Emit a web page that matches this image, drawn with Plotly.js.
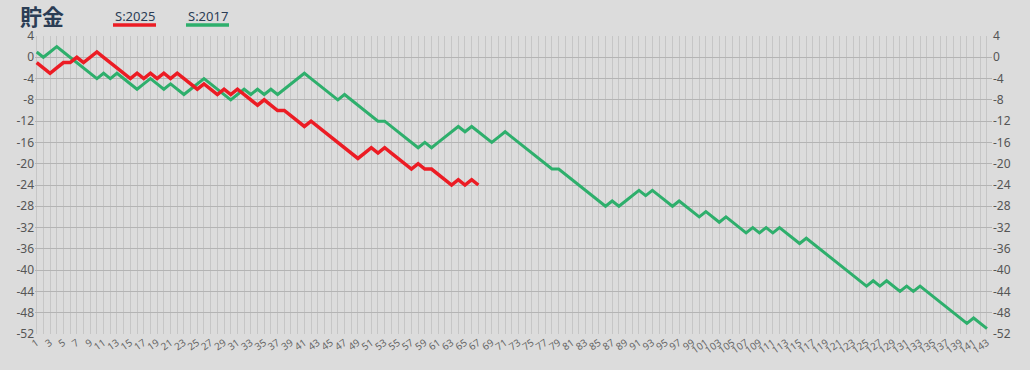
<!DOCTYPE html>
<html>
<head>
<meta charset="utf-8">
<script src="https://cdn.plot.ly/plotly-3.0.1.min.js"></script>
<style>
html,body{margin:0;padding:0;background:#dcdcdc;}
#chart{width:1030px;height:370px;}
</style>
</head>
<body>
<div id="chart"></div>
<script>
// Game numbers (categories)
const games = Array.from({length: 143}, (_, i) => i + 1);

// 貯金 (wins minus losses) after each game
const s2025 = [
  -1, -2, -3, -2, -1, -1, 0, -1, 0, 1,
  0, -1, -2, -3, -4, -3, -4, -3, -4, -3,
  -4, -3, -4, -5, -6, -5, -6, -7, -6, -7,
  -6, -7, -8, -9, -8, -9, -10, -10, -11, -12,
  -13, -12, -13, -14, -15, -16, -17, -18, -19, -18,
  -17, -18, -17, -18, -19, -20, -21, -20, -21, -21,
  -22, -23, -24, -23, -24, -23, -24
];

const s2017 = [
  1, 0, 1, 2, 1, 0, -1, -2, -3, -4,
  -3, -4, -3, -4, -5, -6, -5, -4, -5, -6,
  -5, -6, -7, -6, -5, -4, -5, -6, -7, -8,
  -7, -6, -7, -6, -7, -6, -7, -6, -5, -4,
  -3, -4, -5, -6, -7, -8, -7, -8, -9, -10,
  -11, -12, -12, -13, -14, -15, -16, -17, -16, -17,
  -16, -15, -14, -13, -14, -13, -14, -15, -16, -15,
  -14, -15, -16, -17, -18, -19, -20, -21, -21, -22,
  -23, -24, -25, -26, -27, -28, -27, -28, -27, -26,
  -25, -26, -25, -26, -27, -28, -27, -28, -29, -30,
  -29, -30, -31, -30, -31, -32, -33, -32, -33, -32,
  -33, -32, -33, -34, -35, -34, -35, -36, -37, -38,
  -39, -40, -41, -42, -43, -42, -43, -42, -43, -44,
  -43, -44, -43, -44, -45, -46, -47, -48, -49, -50,
  -49, -50, -51
];

const seriesNames = ['S:2025', 'S:2017'];
const seriesColors = ['#ec1c24', '#2eaf6c'];

const yTicks = [4, 0, -4, -8, -12, -16, -20, -24, -28, -32, -36, -40, -44, -48, -52];

const W = 1030, H = 370;
const M = {l: 35, r: 38, t: 36, b: 36};
const pw = W - M.l - M.r, ph = H - M.t - M.b;
const px = v => (v - M.l) / pw;
const py = v => (H - M.b - v) / ph;

const textColor = '#2b3d55';
const tickColor = '#555555';

const traces = [
  {
    x: games.slice(0, s2017.length), y: s2017, type: 'scatter', mode: 'lines',
    name: seriesNames[1], line: {color: seriesColors[1], width: 3},
    yaxis: 'y', hoverinfo: 'skip', showlegend: false
  },
  {
    x: games.slice(0, s2025.length), y: s2025, type: 'scatter', mode: 'lines',
    name: seriesNames[0], line: {color: seriesColors[0], width: 3.5},
    yaxis: 'y2', hoverinfo: 'skip', showlegend: false
  }
];

const yCommon = {
  range: [-52, 4], tickvals: yTicks, ticktext: yTicks.map(String),
  tickfont: {family: 'Noto Sans, sans-serif', size: 12, color: tickColor},
  ticks: '', fixedrange: true, zeroline: false
};

const legendAnn = [], legendShapes = [];
const legX = [113, 186];
const legW = [43, 43];
seriesNames.forEach((n, i) => {
  legendAnn.push({
    text: n, xref: 'paper', yref: 'paper', x: px(legX[i]), y: py(16),
    xanchor: 'left', yanchor: 'middle', showarrow: false,
    font: {family: 'Noto Sans, sans-serif', size: 13, color: textColor}
  });
  legendShapes.push({
    type: 'line', xref: 'paper', yref: 'paper',
    x0: px(legX[i]), x1: px(legX[i] + legW[i]), y0: py(25), y1: py(25),
    line: {color: seriesColors[i], width: 3.5}
  });
});

const layout = {
  width: W, height: H,
  margin: M,
  paper_bgcolor: '#dcdcdc',
  plot_bgcolor: '#dcdcdc',
  title: {
    text: '<b>貯金</b>', xref: 'container', yref: 'container',
    x: 20 / W, xanchor: 'left', y: 1 - 17 / H, yanchor: 'middle',
    font: {family: 'Noto Sans CJK JP, sans-serif', size: 22, color: textColor}
  },
  xaxis: {
    range: [0.75, 143.75], tickmode: 'linear', tick0: 1, dtick: 2,
    tickangle: -35,
    tickfont: {family: 'Noto Sans, sans-serif', size: 10, color: '#666666'},
    showgrid: true, gridcolor: '#c6c6c6', gridwidth: 1,
    minor: {dtick: 1, tick0: 0, showgrid: true, gridcolor: '#c6c6c6', gridwidth: 1},
    zeroline: false, ticks: '', showline: false, fixedrange: true
  },
  yaxis: Object.assign({}, yCommon, {
    side: 'left', showgrid: true, gridcolor: '#b4b4b4', gridwidth: 1
  }),
  yaxis2: Object.assign({}, yCommon, {
    side: 'right', overlaying: 'y', showgrid: false
  }),
  annotations: legendAnn,
  shapes: legendShapes,
  showlegend: false
};

Plotly.newPlot('chart', traces, layout, {staticPlot: true, displayModeBar: false});
</script>
</body>
</html>
